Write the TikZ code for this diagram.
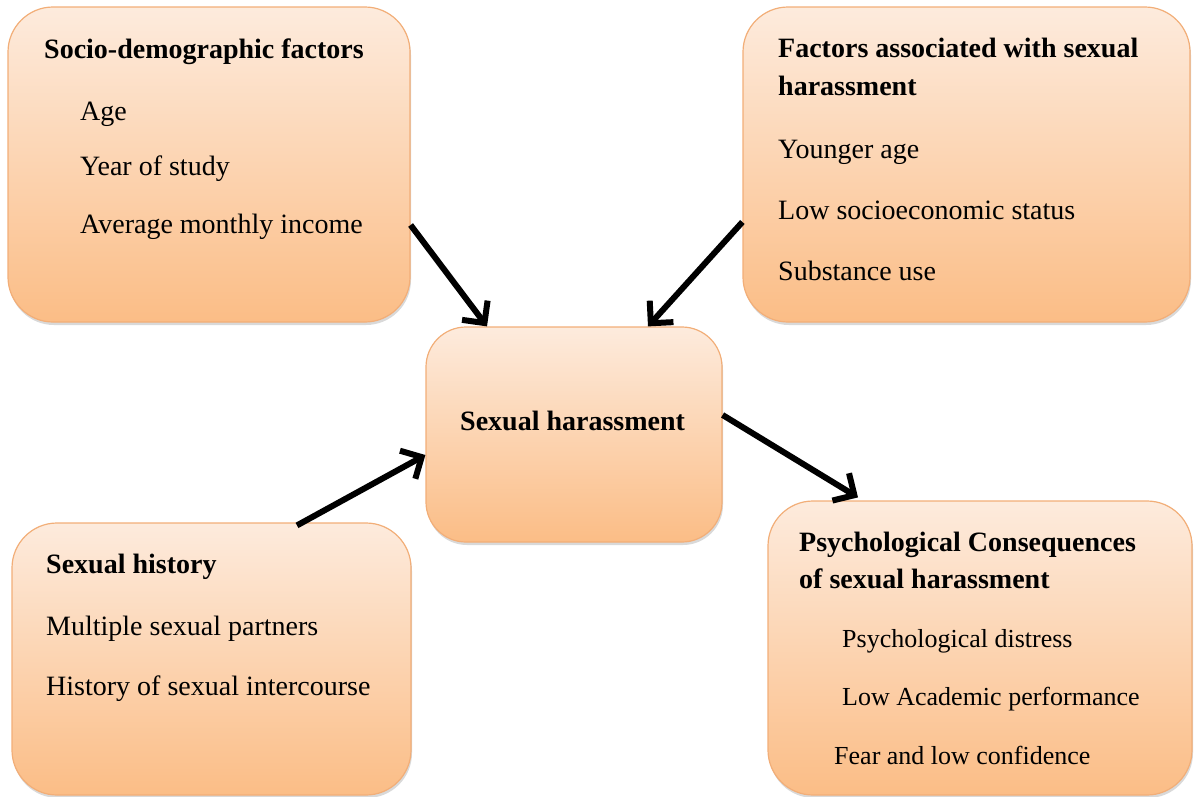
\documentclass[tikz,border=0pt]{standalone}
\usepackage{fontspec}
\setmainfont{Liberation Serif}
\usetikzlibrary{arrows.meta,shadows}
\definecolor{boxtop}{HTML}{FDEBDD}
\definecolor{boxbottom}{HTML}{FBBD86}
\definecolor{boxline}{HTML}{F2AE78}
\tikzset{
    box/.style={draw=boxline, line width=1.2pt, top color=boxtop, bottom color=boxbottom, rounded corners=45pt, inner sep=0pt,
        drop shadow={shadow xshift=1pt, shadow yshift=-3pt, opacity=0.25, fill=black!60}},
    title/.style={anchor=base west, inner sep=0pt, font=\fontsize{28}{32}\selectfont\bfseries},
    item/.style={anchor=base west, inner sep=0pt, font=\fontsize{28}{32}\selectfont},
    smallitem/.style={anchor=base west, inner sep=0pt, font=\fontsize{26}{30}\selectfont},
    arrow/.style={-{Straight Barb[length=16pt, width=32pt]}, line width=6pt, black}
}
\begin{document}
\begin{tikzpicture}[x=1pt, y=-1pt]
            \useasboundingbox (0,0) rectangle (1195,796);
            % boxes
            \node(socio) at (209,164.5) [box, minimum width=402pt, minimum height=315pt] {};
            \node(factors) at (966.5,164.5) [box, minimum width=447pt, minimum height=315pt] {};
            \node(harass) at (574,434.5) [box, rounded corners=40pt, minimum width=296pt, minimum height=215pt] {};
            \node(history) at (211.5,659) [box, minimum width=399pt, minimum height=272pt] {};
            \node(psych) at (980,648) [box, minimum width=424pt, minimum height=294pt] {};

            % socio-demographic factors
            \node(socio_title) at (44,58) [title] {Socio-demographic factors};
            \node(socio_item1) at (80,120) [item] {Age};
            \node(socio_item2) at (80,175) [item] {Year of study};
            \node(socio_item3) at (80,233) [item] {Average monthly income};

            % factors associated
            \node(factors_title1) at (778,57) [title] {Factors associated with sexual};
            \node(factors_title2) at (778,95) [title] {harassment};
            \node(factors_item1) at (778,158) [item] {Younger age};
            \node(factors_item2) at (778,219) [item] {Low socioeconomic status};
            \node(factors_item3) at (778,280) [item] {Substance use};

            % centre
            \node(harass_title) at (460,430) [title] {Sexual harassment};

            % sexual history
            \node(history_title) at (46,573) [title] {Sexual history};
            \node(history_item1) at (46,635) [item] {Multiple sexual partners};
            \node(history_item2) at (46,695) [item] {History of sexual intercourse};

            % psychological consequences
            \node(psych_title1) at (799,551) [title] {Psychological Consequences};
            \node(psych_title2) at (799,588) [title] {of sexual harassment};
            \node(psych_item1) at (842,647) [smallitem] {Psychological distress};
            \node(psych_item2) at (842,705) [smallitem] {Low Academic performance};
            \node(psych_item3) at (834,764) [smallitem] {Fear and low confidence};

            \draw[arrow] ([yshift=-60.5pt]socio.east) -- ([xshift=-87pt]harass.north);
            \draw[arrow] ([yshift=-57.5pt]factors.west) -- ([xshift=74pt]harass.north);
            \draw[arrow] ([xshift=85.5pt, yshift=-3pt]history.north) -- ([yshift=-20.5pt]harass.west);
            \draw[arrow] ([yshift=19.5pt]harass.east) -- ([xshift=-122pt, yshift=3pt]psych.north);
        \end{tikzpicture}
\end{document}
